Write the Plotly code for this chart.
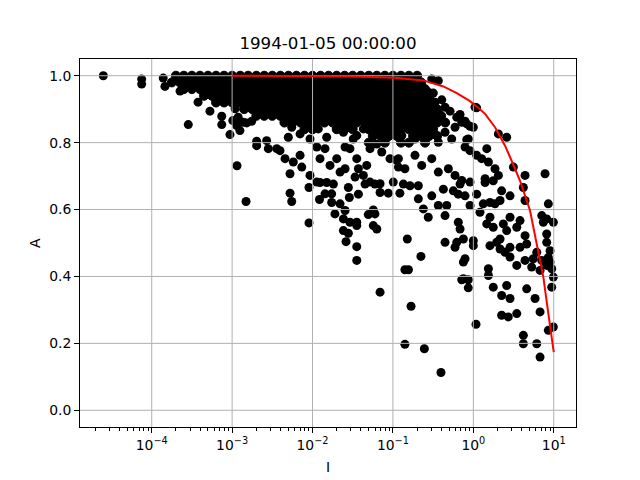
import plotly.graph_objects as go

# ---------------- sparse scatter points ----------------
I_sparse = [
    2.5e-5, 7.5e-5, 7.5e-5, 1.39e-4, 1.46e-4, 2.25e-4, 3.77e-4, 5.3e-4, 2.85e-4, 7.43e-4,
    7.43e-4, 9.4e-4, 1.15e-3, 1.19e-3, 1.52e-3, 1.75e-3, 2.02e-3, 1.14e-3, 1.25e-3, 1.38e-3,
    1.49e-3, 2.02e-3, 2.69e-3, 2.82e-3, 3.59e-3, 3.94e-3, 4.55e-3, 5.25e-3, 5.77e-3, 7.0e-3,
    7.35e-3, 5.0e-3, 5.51e-3, 7.0e-3, 9.3e-3, 9.77e-3, 1.18e-2, 1.13e-2, 1.24e-2, 1.43e-2,
    1.5e-2, 1.65e-2, 2.0e-2, 2.2e-2, 2.54e-2, 9.3e-3, 1.13e-2, 2.54e-2, 2.92e-2, 3.21e-2,
    3.55e-2, 3.72e-2, 3.38e-2, 4.29e-2, 4.72e-2, 5.19e-2, 6.3e-2, 7.26e-2, 9.2e-2, 5.19e-2,
    6.92e-2, 0.101, 0.111, 0.117, 4.29e-2, 3.55e-2, 2.42e-2, 1.02e-3, 1.09e-3, 1.19e-3,
    5.25e-3, 5.51e-3, 9.04e-3, 9.04e-3, 1.22e-2, 1.43e-2, 1.73e-2, 1.73e-2, 1.9e-2, 2.2e-2,
    2.54e-2, 2.42e-2, 2.92e-2, 2.42e-2, 2.79e-2, 3.55e-2, 3.55e-2, 2.61e-2, 3.55e-2, 3.55e-2,
    2.87e-2, 3.72e-2, 2.79e-2, 1.82e-2, 1.24e-2, 1.5e-2, 4.5e-2, 5.98e-2, 6.92e-2, 8.77e-2,
    0.122, 0.135, 0.163, 0.207, 0.207, 0.239, 0.275, 0.304, 0.367, 4.94e-2,
    5.98e-2, 5.7e-2, 5.7e-2, 6.3e-2, 0.151, 0.223, 0.141, 0.156, 6.92e-2, 0.168,
    0.718, 0.866, 0.866, 1.08, 0.141, 0.246, 0.396, 0.304, 0.367, 1.05,
    1.0, 2.05, 2.6, 0.866, 0.789, 1.47, 1.1, 1.27, 1.54, 1.86,
    2.05, 3.15, 4.4, 7.8, 0.718, 0.91, 1.4, 0.117, 0.141, 0.188,
    0.228, 0.304, 0.367, 0.489, 0.592, 0.129, 0.188, 0.275, 0.367, 0.445,
    0.538, 0.592, 0.318, 0.405, 0.513, 0.684, 0.789, 0.91, 1.1, 0.828,
    0.91, 0.275, 0.334, 0.445, 0.622, 0.718, 0.828, 0.424, 0.564, 0.684,
    0.789, 0.65, 1.1, 1.4, 1.77, 2.25, 2.15, 2.86, 1.61, 1.86,
    1.33, 4.19, 4.4, 0.467, 0.445, 0.91, 1.21, 8.57, 7.1, 8.18,
    9.89, 7.43, 3.81, 2.86, 2.36, 1.61, 1.47, 1.77, 2.6, 3.47,
    2.15, 1.95, 0.65, 0.684, 0.445, 0.622, 0.752, 0.592, 1.0, 1.0,
    1.61, 4.4, 4.61, 3.81, 2.86, 2.48, 2.15, 8.18, 8.18, 9.0,
    8.57, 9.0, 9.44, 9.89, 8.18, 7.1, 6.15, 5.57, 6.76, 2.86,
    3.47, 4.4, 5.32, 0.789, 0.752, 1.54, 1.54, 0.752, 1.77, 2.6,
    2.25, 2.86, 4.61, 5.86, 9.44, 2.25, 2.72, 3.47, 6.76, 9.89,
    8.57, 4.19, 4.19, 6.15, 6.76,
]
A_sparse = [
    1.0, 0.99, 0.975, 0.993, 0.968, 0.954, 0.921, 0.894, 0.854, 0.879,
    0.854, 0.824, 0.731, 0.864, 0.859, 0.864, 0.804, 0.851, 0.836, 0.861,
    0.624, 0.791, 0.806, 0.782, 0.782, 0.776, 0.752, 0.707, 0.742, 0.762,
    0.727, 0.816, 0.846, 0.826, 0.811, 0.861, 0.841, 0.787, 0.752, 0.782,
    0.816, 0.732, 0.752, 0.712, 0.722, 0.702, 0.682, 0.787, 0.782, 0.811,
    0.752, 0.722, 0.697, 0.702, 0.732, 0.782, 0.796, 0.772, 0.752, 0.682,
    0.677, 0.682, 0.747, 0.727, 0.841, 0.821, 0.831, 0.866, 0.901, 0.876,
    0.649, 0.624, 0.666, 0.560, 0.630, 0.647, 0.647, 0.621, 0.587, 0.617,
    0.597, 0.572, 0.562, 0.537, 0.529, 0.562, 0.552, 0.504, 0.489, 0.448,
    0.636, 0.646, 0.666, 0.676, 0.681, 0.681, 0.676, 0.676, 0.651, 0.649,
    0.649, 0.676, 0.671, 0.671, 0.632, 0.602, 0.577, 0.641, 0.612, 0.585,
    0.587, 0.599, 0.552, 0.542, 0.512, 0.460, 0.420, 0.420, 0.353, 0.311,
    0.390, 0.390, 0.366, 0.257, 0.197, 0.184, 0.113, 0.990, 0.985, 0.906,
    0.846, 0.826, 0.816, 0.811, 0.787, 0.782, 0.762, 0.752, 0.742, 0.722,
    0.702, 0.727, 0.702, 0.707, 0.687, 0.682, 0.692, 0.752, 0.722, 0.762,
    0.732, 0.752, 0.712, 0.722, 0.702, 0.821, 0.811, 0.841, 0.801, 0.831,
    0.811, 0.846, 0.948, 0.928, 0.894, 0.884, 0.864, 0.849, 0.904, 0.809,
    0.776, 0.951, 0.921, 0.906, 0.876, 0.861, 0.856, 0.661, 0.656, 0.676,
    0.641, 0.646, 0.646, 0.681, 0.686, 0.656, 0.627, 0.641, 0.621, 0.617,
    0.617, 0.666, 0.627, 0.612, 0.582, 0.612, 0.592, 0.617, 0.582, 0.572,
    0.562, 0.562, 0.567, 0.577, 0.557, 0.577, 0.557, 0.547, 0.537, 0.547,
    0.512, 0.502, 0.562, 0.542, 0.502, 0.502, 0.512, 0.487, 0.507, 0.492,
    0.492, 0.522, 0.497, 0.487, 0.487, 0.472, 0.482, 0.527, 0.502, 0.477,
    0.457, 0.443, 0.423, 0.398, 0.433, 0.448, 0.472, 0.453, 0.418, 0.458,
    0.433, 0.448, 0.428, 0.453, 0.443, 0.423, 0.403, 0.393, 0.368, 0.373,
    0.343, 0.334, 0.363, 0.334, 0.368, 0.284, 0.279, 0.289, 0.294, 0.249,
    0.239, 0.224, 0.199, 0.199, 0.159,
]

# ---------------- dense core of the cloud, one list of I per A level ----------------
A_levels = [1.00, 0.98, 0.96, 0.94, 0.92, 0.90, 0.88, 0.86, 0.84, 0.82, 0.80]
I_at_100 = [2.0e-4, 2.51e-4, 3.16e-4, 3.98e-4, 5.01e-4, 6.31e-4, 7.94e-4, 1.0e-3, 1.26e-3, 1.58e-3,
            2.0e-3, 2.51e-3, 3.16e-3, 3.98e-3, 5.01e-3, 6.31e-3, 7.94e-3, 1.0e-2, 1.26e-2, 1.58e-2,
            2.0e-2, 2.51e-2, 3.16e-2, 3.98e-2, 5.01e-2, 6.31e-2, 7.94e-2, 0.1, 0.126, 0.158, 0.2]
I_at_098 = [1.78e-4, 2.24e-4, 2.82e-4, 3.55e-4, 4.47e-4, 5.62e-4, 7.08e-4, 8.91e-4, 1.12e-3, 1.41e-3,
            1.78e-3, 2.24e-3, 2.82e-3, 3.55e-3, 4.47e-3, 5.62e-3, 7.08e-3, 8.91e-3, 1.12e-2, 1.41e-2,
            1.78e-2, 2.24e-2, 2.82e-2, 3.55e-2, 4.47e-2, 5.62e-2, 7.08e-2, 8.91e-2, 0.112, 0.141,
            0.178, 0.224]
I_at_096 = [2.51e-4, 3.16e-4, 3.98e-4, 5.01e-4, 6.31e-4, 7.94e-4, 1.0e-3, 1.26e-3, 1.58e-3,
            2.0e-3, 2.51e-3, 3.16e-3, 3.98e-3, 5.01e-3, 6.31e-3, 7.94e-3, 1.0e-2, 1.26e-2, 1.58e-2,
            2.0e-2, 2.51e-2, 3.16e-2, 3.98e-2, 5.01e-2, 6.31e-2, 7.94e-2, 0.1, 0.126, 0.158, 0.2, 0.251]
I_at_094 = [4.47e-4, 5.62e-4, 7.08e-4, 8.91e-4, 1.12e-3, 1.41e-3,
            1.78e-3, 2.24e-3, 2.82e-3, 3.55e-3, 4.47e-3, 5.62e-3, 7.08e-3, 8.91e-3, 1.12e-2, 1.41e-2,
            1.78e-2, 2.24e-2, 2.82e-2, 3.55e-2, 4.47e-2, 5.62e-2, 7.08e-2, 8.91e-2, 0.112, 0.141,
            0.178, 0.224, 0.282]
I_at_092 = [6.31e-4, 7.94e-4, 1.0e-3, 1.26e-3, 1.58e-3,
            2.0e-3, 2.51e-3, 3.16e-3, 3.98e-3, 5.01e-3, 6.31e-3, 7.94e-3, 1.0e-2, 1.26e-2, 1.58e-2,
            2.0e-2, 2.51e-2, 3.16e-2, 3.98e-2, 5.01e-2, 6.31e-2, 7.94e-2, 0.1, 0.126, 0.158, 0.2,
            0.251, 0.316]
I_at_090 = [1.41e-3, 1.78e-3, 2.24e-3, 2.82e-3, 3.55e-3, 4.47e-3, 5.62e-3, 7.08e-3, 8.91e-3,
            1.12e-2, 1.41e-2, 1.78e-2, 2.24e-2, 2.82e-2, 3.55e-2, 4.47e-2, 5.62e-2, 7.08e-2, 8.91e-2,
            0.112, 0.141, 0.178, 0.224, 0.282, 0.355]
I_at_088 = [2.0e-3, 2.51e-3, 3.16e-3, 3.98e-3, 5.01e-3, 6.31e-3, 7.94e-3, 1.0e-2, 1.26e-2, 1.58e-2,
            2.0e-2, 2.51e-2, 3.16e-2, 3.98e-2, 5.01e-2, 6.31e-2, 7.94e-2, 0.1, 0.126, 0.158, 0.2,
            0.251, 0.316, 0.398]
I_at_086 = [4.47e-3, 5.62e-3, 7.08e-3, 8.91e-3, 1.12e-2, 1.41e-2, 1.78e-2, 2.24e-2, 2.82e-2,
            3.55e-2, 4.47e-2, 5.62e-2, 7.08e-2, 8.91e-2, 0.112, 0.141, 0.178, 0.224, 0.282, 0.355, 0.447]
I_at_084 = [7.94e-3, 1.0e-2, 2.0e-2, 2.51e-2, 3.16e-2, 5.01e-2, 6.31e-2, 7.94e-2, 0.1, 0.126,
            0.158, 0.2, 0.251, 0.316]
I_at_082 = [5.62e-2, 7.08e-2, 8.91e-2, 0.112, 0.178, 0.224, 0.282, 0.355]
I_at_080 = [5.01e-2, 7.94e-2, 0.126, 0.158, 0.251]
I_rows = [I_at_100, I_at_098, I_at_096, I_at_094, I_at_092, I_at_090,
          I_at_088, I_at_086, I_at_084, I_at_082, I_at_080]

# ---------------- red fitted curve ----------------
I_fit = [1e-3, 1e-2, 3e-2, 5e-2, 0.106, 0.239, 0.424, 0.622, 0.91, 1.15, 1.4, 1.86,
         2.48, 2.86, 3.3, 3.81, 5.07, 6.44, 7.43, 8.57, 10.0]
A_fit = [1.0, 0.999, 0.998, 0.996, 0.994, 0.986, 0.968, 0.948, 0.924, 0.904, 0.886, 0.846,
         0.791, 0.757, 0.722, 0.686, 0.597, 0.477, 0.398, 0.289, 0.174]

# ---------------- axes ----------------
x_ticks = [1e-4, 1e-3, 1e-2, 1e-1, 1, 10]
x_ticktext = ["10<sup>\u22124</sup>", "10<sup>\u22123</sup>", "10<sup>\u22122</sup>",
              "10<sup>\u22121</sup>", "10<sup>0</sup>", "10<sup>1</sup>"]
y_ticks = [0.0, 0.2, 0.4, 0.6, 0.8, 1.0]
y_ticktext = ["0.0", "0.2", "0.4", "0.6", "0.8", "1.0"]
x_log_range = [-4.892, 1.277]
y_range = [-0.05, 1.05]

# build flat arrays for the dense core
I_core, A_core = [], []
for a, row in zip(A_levels, I_rows):
    I_core += row
    A_core += [a] * len(row)

FONT = "DejaVu Sans"
GRID = "#b0b0b0"

fig = go.Figure()
fig.add_trace(go.Scatter(
    x=I_core, y=A_core, mode="markers",
    marker=dict(color="black", size=9, line=dict(width=1, color="black")),
    hoverinfo="skip", showlegend=False,
))
fig.add_trace(go.Scatter(
    x=I_sparse, y=A_sparse, mode="markers",
    marker=dict(color="black", size=9, line=dict(width=0)),
    hoverinfo="skip", showlegend=False,
))

# grid lines drawn above the points (as in the reference), below the red line
gx, gy = [], []
x_lo, x_hi = 10 ** x_log_range[0], 10 ** x_log_range[1]
for xv in x_ticks:
    gx += [xv, xv, None]
    gy += [y_range[0], y_range[1], None]
for yv in y_ticks:
    gx += [x_lo, x_hi, None]
    gy += [yv, yv, None]
fig.add_trace(go.Scatter(
    x=gx, y=gy, mode="lines", line=dict(color=GRID, width=1),
    hoverinfo="skip", showlegend=False,
))

fig.add_trace(go.Scatter(
    x=I_fit, y=A_fit, mode="lines", line=dict(color="red", width=2),
    hoverinfo="skip", showlegend=False,
))

axis_common = dict(
    showgrid=False, zeroline=False, showline=True, mirror=True,
    linecolor="black", linewidth=1, ticks="outside", ticklen=5, tickwidth=1,
    tickcolor="black", tickfont=dict(family=FONT, size=13.9, color="black"),
)
fig.update_xaxes(
    type="log", range=x_log_range, tickmode="array", tickvals=x_ticks, ticktext=x_ticktext,
    minor=dict(ticks="outside", ticklen=3, tickwidth=1, tickcolor="black", dtick="D1", showgrid=False),
    **axis_common,
)
fig.update_yaxes(range=y_range, tickmode="array", tickvals=y_ticks, ticktext=y_ticktext, **axis_common)

fig.update_layout(
    width=640, height=480,
    margin=dict(l=80, r=64, t=59, b=53),
    paper_bgcolor="white", plot_bgcolor="white",
    font=dict(family=FONT, color="black"),
    title=dict(text="1994-01-05 00:00:00", x=0.5, xref="paper", xanchor="center",
               y=1 - 43 / 480, yref="container", yanchor="middle",
               font=dict(family=FONT, size=16.7, color="black")),
    annotations=[
        dict(text="I", x=0.5, y=-0.1087, xref="paper", yref="paper", xanchor="center",
             yanchor="middle", showarrow=False, font=dict(family=FONT, size=13.9, color="black")),
        dict(text="A", x=-0.0907, y=0.5, xref="paper", yref="paper", xanchor="center",
             yanchor="middle", textangle=-90, showarrow=False,
             font=dict(family=FONT, size=13.9, color="black")),
    ],
    showlegend=False,
)

fig.write_html("out.html", config={"displayModeBar": False},
               post_script="document.body.style.margin='0px';")
